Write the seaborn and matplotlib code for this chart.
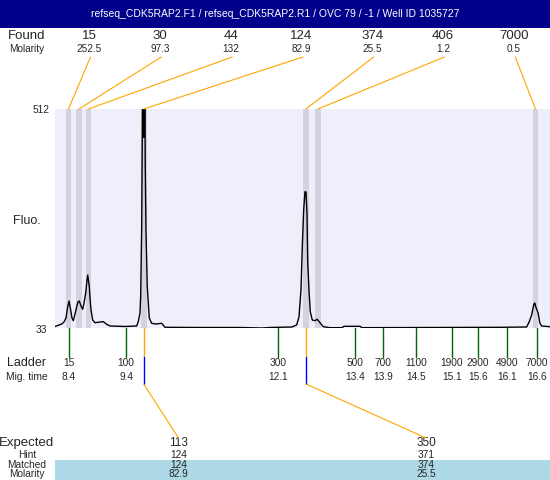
import seaborn as sns
import matplotlib.pyplot as plt
from matplotlib.patches import Rectangle, ConnectionPatch
from matplotlib.transforms import blended_transform_factory

# Fragment analyzer trace, x = migration time (min), y = fluorescence
title = "refseq_CDK5RAP2.F1 / refseq_CDK5RAP2.R1 / OVC 79 / -1 / Well ID 1035727"

trace_time = [8.157, 8.275, 8.315, 8.350, 8.376, 8.403, 8.432, 8.455, 8.478, 8.508,
              8.538, 8.560, 8.583, 8.613, 8.643, 8.666, 8.696, 8.718, 8.731, 8.759,
              8.771, 8.789, 8.818, 8.859, 8.946, 9.004, 9.069, 9.122, 9.385, 9.590,
              9.618, 9.648, 9.660, 9.678, 9.688, 9.697, 9.706, 9.715, 9.724, 9.732,
              9.740, 9.753, 9.776, 9.811, 9.853, 9.929, 10.029, 10.087, 10.701, 11.403,
              11.789, 11.929, 12.315, 12.397, 12.438, 12.473, 12.496, 12.520, 12.543, 12.561,
              12.578, 12.590, 12.613, 12.636, 12.671, 12.718, 12.758, 12.806, 12.864, 12.982,
              13.192, 13.227, 13.508, 13.543, 15.964, 16.432, 16.478, 16.520, 16.560, 16.574,
              16.595, 16.635, 16.665, 16.695, 16.842]
trace_fluo = [36.3, 41.7, 46.1, 54.9, 76.7, 92.0, 72.4, 54.9, 49.0, 63.6,
              79.6, 89.9, 92.0, 81.1, 73.9, 87.7, 109.5, 138.0, 148.9, 123.3,
              98.6, 72.4, 50.5, 44.6, 46.1, 46.8, 40.7, 37.4, 36.3, 37.4,
              46.8, 65.8, 101.5, 254.5, 448.5, 640.0, 450.0, 640.0, 450.0, 640.0,
              394.0, 247.3, 123.3, 54.9, 43.3, 41.7, 43.3, 34.5, 34.1, 34.1,
              33.0, 34.1, 35.2, 39.6, 57.7, 116.1, 210.8, 291.1, 331.1, 330.4,
              283.9, 181.7, 116.1, 68.6, 50.5, 49.0, 52.0, 44.6, 35.8, 33.7,
              33.7, 36.7, 36.7, 33.7, 34.5, 35.2, 46.8, 61.4, 85.5, 87.7,
              78.3, 65.1, 43.3, 37.4, 35.8]

found_time = [8.394, 8.578, 8.745, 9.713, 12.560, 12.771, 16.587]
found_size = ['15', '30', '44', '124', '374', '406', '7000']
found_molarity = ['252.5', '97.3', '132', '82.9', '25.5', '1.2', '0.5']

ladder_time = [8.403, 9.403, 12.07, 13.42, 13.91, 14.49, 15.12, 15.58, 16.09, 16.61]
ladder_size = ['15', '100', '300', '500', '700', '1100', '1900', '2900', '4900', '7000']

expected_size = ['113', '350']
hint_size = ['124', '371']
matched_size = ['124', '374']
matched_molarity = ['82.9', '25.5']
matched_time = [9.713, 12.560]

sns.set_style('white')
plt.rcParams['font.family'] = ['Liberation Sans', 'DejaVu Sans']

orange = '#ffa500'

fig = plt.figure(figsize=(5.5, 4.8), dpi=100)
# pixel canvas for labels and connectors
bg = fig.add_axes([0, 0, 1, 1])
bg.set_xlim(0, 550)
bg.set_ylim(480, 0)
bg.axis('off')

ax = fig.add_axes([55 / 550, 152 / 480, 495 / 550, 219 / 480])
ax.set_xlim(8.157, 16.842)
ax.set_ylim(33, 512)
ax.set_facecolor('#efeffc')
for s in ax.spines.values():
    s.set_visible(False)
ax.set_xticks([])
ax.set_yticks([])

for t in found_time:
    ax.axvspan(t - 0.05, t + 0.05, color='#d3d3e0', lw=0, zorder=1)

sns.lineplot(x=trace_time, y=trace_fluo, ax=ax, color='black', lw=1,
             sort=False, estimator=None, zorder=3)

# title bar
bg.add_patch(Rectangle((0, 0), 550, 28, color='#00008b', lw=0))
bg.text(275, 14, title, color='white', ha='center', va='center', fontsize=7.5)

# found peaks
bg.text(27, 36, 'Found', ha='center', va='center', fontsize=9.5)
bg.text(27, 49, 'Molarity', ha='center', va='center', fontsize=7.2)
for i, (t, sz, mol) in enumerate(zip(found_time, found_size, found_molarity)):
    cx = 89 + 70.8 * i
    bg.text(cx, 36, sz, ha='center', va='center', fontsize=9.5)
    bg.text(cx, 49, mol, ha='center', va='center', fontsize=7.2)
    fig.add_artist(ConnectionPatch(xyA=(cx + 1.5, 57), coordsA=bg.transData,
                                   xyB=(t, 512), coordsB=ax.transData,
                                   color=orange, lw=0.8))

# y labels
bg.text(41, 110, '512', ha='center', va='center', fontsize=7.3)
bg.text(41, 330, '33', ha='center', va='center', fontsize=7.3)
bg.text(27, 221, 'Fluo.', ha='center', va='center', fontsize=9)

# ladder
trans = blended_transform_factory(ax.transData, bg.transData)
bg.text(27, 363.3, 'Ladder', ha='center', va='center', fontsize=9)
bg.text(27, 376.7, 'Mig. time', ha='center', va='center', fontsize=7.4)
for t, sz in zip(ladder_time, ladder_size):
    bg.plot([t, t], [328, 357], transform=trans, color='#006400', lw=1)
    bg.text(t, 363.3, sz, transform=trans, ha='center', va='center', fontsize=7.3)
    bg.text(t, 376.7, f'{t:.1f}', transform=trans, ha='center', va='center', fontsize=7.3)

# expected / matched
cols = [178.5, 426]
bg.add_patch(Rectangle((55, 460), 495, 20, color='#add8e6', lw=0))
bg.text(27, 443.3, 'Expected', ha='center', va='center', fontsize=9.5)
bg.text(27, 455, 'Hint', ha='center', va='center', fontsize=7.3)
bg.text(27, 465, 'Matched', ha='center', va='center', fontsize=7.3)
bg.text(27, 474, 'Molarity', ha='center', va='center', fontsize=7.3)
for t, cx, e, h, m, mol in zip(matched_time, cols, expected_size, hint_size,
                               matched_size, matched_molarity):
    bg.plot([t, t], [328, 357], transform=trans, color=orange, lw=1)
    bg.plot([t, t], [357, 384], transform=trans, color='#0000ff', lw=1)
    fig.add_artist(ConnectionPatch(xyA=(t, 384), coordsA=trans,
                                   xyB=(cx, 438), coordsB=bg.transData,
                                   color=orange, lw=0.8))
    bg.text(cx, 443.3, e, ha='center', va='center', fontsize=8.5)
    bg.text(cx, 455, h, ha='center', va='center', fontsize=7.3)
    bg.text(cx, 465, m, ha='center', va='center', fontsize=7.3)
    bg.text(cx, 474, mol, ha='center', va='center', fontsize=7.3)

fig.savefig('out.png', dpi=100)
